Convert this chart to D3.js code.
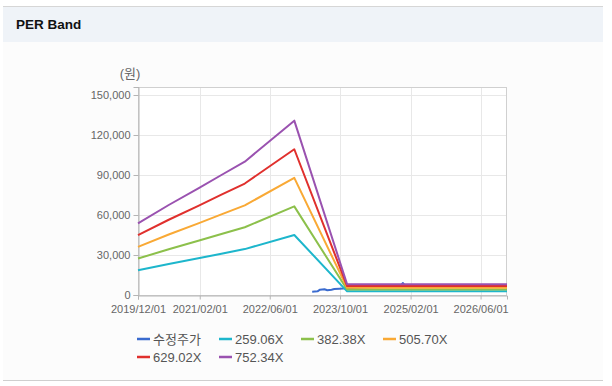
<!DOCTYPE html>
<meta charset="utf-8">
<html>
<head>
<style>
body { margin: 0; background: #fff; }
svg { display: block; font-family: "Liberation Sans", "Noto Sans CJK KR", Arial, sans-serif; }
.tick text { fill: #666; font-size: 11px; }
.legend text { fill: #555; font-size: 13px; }
</style>
</head>
<body>
<svg width="612" height="386"></svg>
<script src="https://cdn.jsdelivr.net/npm/d3@7/dist/d3.min.js"></script>
<script>

// band dates (shared by the five PER bands)
var bandDates = ["2019-12-01","2020-07-01","2021-01-22","2021-07-01","2021-12-10","2022-11-18","2023-11-19","2026-12-01"];
var band259 = [18510, 23240, 27540, 30980, 34430, 45020, 2750, 2750];
var band382 = [27320, 34310, 40650, 45730, 50820, 66460, 4060, 4060];
var band505 = [36130, 45370, 53760, 60480, 67210, 87890, 5380, 5380];
var band629 = [44940, 56440, 66870, 75230, 83600, 109320, 6690, 6690];
var band752 = [53750, 67500, 80000, 90000, 100000, 130750, 8000, 8000];

// 수정주가
var priceDates = ["2023-03-22","2023-04-28","2023-05-15","2023-06-15","2023-07-05","2023-08-03","2023-08-22","2023-09-28","2023-11-15","2024-03-01","2024-07-01","2024-11-20","2024-12-10","2024-12-28","2025-03-01"];
var priceVals = [2480, 2780, 3980, 4280, 3530, 3980, 4500, 4730, 5030, 5600, 6000, 6500, 9000, 6500, 6000];

var seriesNames = ["수정주가", "259.06X", "382.38X", "505.70X", "629.02X", "752.34X"];
var seriesColors = ["#3a6bcf", "#1db6cc", "#8cc04b", "#f9a935", "#e0302d", "#9a52b0"];

var xTickLabels = ["2019/12/01","2021/02/01","2022/06/01","2023/10/01","2025/02/01","2026/06/01"];
var yTicks = [0, 30000, 60000, 90000, 120000, 150000];

var svg = d3.select("svg");
var parse = d3.timeParse("%Y-%m-%d");
var parseTick = d3.timeParse("%Y/%m/%d");

// panel frame
svg.append("rect").attr("x", 3).attr("y", 6).attr("width", 600).attr("height", 374).attr("fill", "#fcfcfc");
svg.append("rect").attr("x", 3).attr("y", 6).attr("width", 600).attr("height", 36).attr("fill", "#eff3f8");
svg.append("line").attr("x1", 3).attr("x2", 603).attr("y1", 6.5).attr("y2", 6.5).attr("stroke", "#d6d6d6");
svg.append("line").attr("x1", 3).attr("x2", 603).attr("y1", 380.5).attr("y2", 380.5).attr("stroke", "#cfcfcf");
svg.append("text").attr("x", 16).attr("y", 29).attr("font-size", 13.5).attr("font-weight", "bold").attr("fill", "#111").text("PER Band");

var pLeft = 138, pRight = 507, pTop = 87, pBottom = 295;

var x = d3.scaleTime()
    .domain([parse("2019-12-01"), parse("2026-12-01")])
    .range([pLeft, pRight]);
var y = d3.scaleLinear()
    .domain([0, 156000])
    .range([pBottom, pTop]);

// plot background + grid
svg.append("rect").attr("x", pLeft).attr("y", pTop).attr("width", pRight - pLeft).attr("height", pBottom - pTop).attr("fill", "#fff");

svg.append("g").selectAll("line")
    .data(yTicks.slice(1))
  .enter().append("line")
    .attr("x1", pLeft).attr("x2", pRight)
    .attr("y1", function(d) { return Math.round(y(d)) + 0.5; })
    .attr("y2", function(d) { return Math.round(y(d)) + 0.5; })
    .attr("stroke", "#e8e8e8");

svg.append("g").selectAll("line")
    .data(xTickLabels.slice(1))
  .enter().append("line")
    .attr("x1", function(d) { return Math.round(x(parseTick(d))) + 0.5; })
    .attr("x2", function(d) { return Math.round(x(parseTick(d))) + 0.5; })
    .attr("y1", pTop).attr("y2", pBottom)
    .attr("stroke", "#e8e8e8");

// frame of plot
svg.append("rect").attr("x", pLeft + 0.5).attr("y", pTop + 0.5).attr("width", pRight - pLeft - 1).attr("height", pBottom - pTop)
    .attr("fill", "none").attr("stroke", "#d0d0d0");

// axes
svg.append("g")
    .attr("transform", "translate(" + (pLeft + 0.5) + ",0)")
    .call(d3.axisLeft(y).tickValues(yTicks).tickSize(5).tickPadding(3).tickFormat(d3.format(",")));
svg.append("g")
    .attr("transform", "translate(0," + (pBottom + 0.5) + ")")
    .call(d3.axisBottom(x).tickValues(xTickLabels.map(parseTick)).tickSize(4).tickPadding(6)
      .tickFormat(d3.timeFormat("%Y/%m/%d")));
svg.selectAll(".domain").attr("stroke", "#b5b5b5");
svg.selectAll(".tick line").attr("stroke", "#b5b5b5");

svg.append("text").attr("x", 130).attr("y", 78).attr("text-anchor", "middle")
    .attr("font-size", 13).attr("fill", "#666").text("(원)");

// lines
var line = d3.line()
    .x(function(d) { return x(d[0]); })
    .y(function(d) { return y(d[1]); });

var bandSeries = [band259, band382, band505, band629, band752];
var allSeries = [priceDates.map(function(d, i) { return [parse(d), priceVals[i]]; })];
bandSeries.forEach(function(vals) {
  allSeries.push(bandDates.map(function(d, i) { return [parse(d), vals[i]]; }));
});

var plot = svg.append("g");
allSeries.forEach(function(s, i) {
  plot.append("path")
      .datum(s)
      .attr("d", line)
      .attr("fill", "none")
      .attr("stroke", seriesColors[i])
      .attr("stroke-width", 2)
      .attr("stroke-linejoin", "round");
});

// legend
var legend = svg.append("g").attr("class", "legend");
var colW = 82;
seriesNames.forEach(function(name, i) {
  var row = i < 4 ? 0 : 1;
  var col = i < 4 ? i : i - 4;
  var lx = 137 + col * colW, ly = 339 + row * 18;
  legend.append("line").attr("x1", lx).attr("x2", lx + 13).attr("y1", ly).attr("y2", ly)
      .attr("stroke", seriesColors[i]).attr("stroke-width", 2.5);
  legend.append("text").attr("x", lx + 16).attr("y", ly + 4.5).text(name);
});

</script>
</body>
</html>
